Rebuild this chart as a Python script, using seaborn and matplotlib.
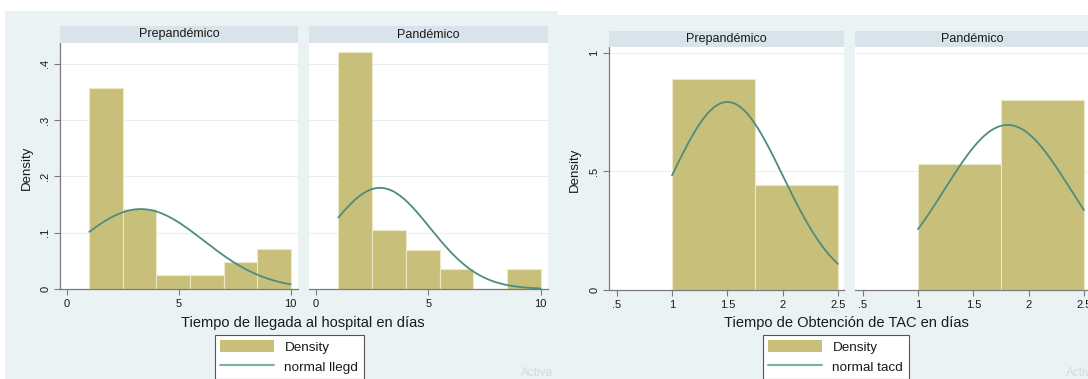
import numpy as np
import pandas as pd
import seaborn as sns
import matplotlib
matplotlib.use("Agg")
import matplotlib.pyplot as plt
from matplotlib.patches import Rectangle, Patch
from matplotlib.lines import Line2D

# ---------------- data ----------------
panels = ["Prepandémico", "Pandémico"]

# Graph 1: Tiempo de llegada al hospital en días (bin width 1.5)
llegd_edges = [1.0, 2.5, 4.0, 5.5, 7.0, 8.5, 10.0]
llegd_density_pre = [0.357, 0.143, 0.024, 0.024, 0.048, 0.071]
llegd_density_pan = [0.421, 0.105, 0.070, 0.035, 0.0, 0.035]
llegd_mean = [3.3, 2.85]
llegd_sd = [2.81, 2.22]
llegd_xticks = [0, 5, 10]
llegd_xticklabels = ["0", "5", "10"]
llegd_yticks = [0, 0.1, 0.2, 0.3, 0.4]
llegd_yticklabels = ["0", ".1", ".2", ".3", ".4"]

# Graph 2: Tiempo de Obtención de TAC en días (bin width 0.75)
tacd_edges = [1.0, 1.75, 2.5]
tacd_density_pre = [0.889, 0.444]
tacd_density_pan = [0.533, 0.800]
tacd_mean = [1.5, 1.81]
tacd_sd = [0.503, 0.573]
tacd_xticks = [0.5, 1, 1.5, 2, 2.5]
tacd_xticklabels = [".5", "1", "1.5", "2", "2.5"]
tacd_yticks = [0, 0.5, 1]
tacd_yticklabels = ["0", ".5", "1"]

# ---------------- style ----------------
sns.set_theme(style="white")
plt.rcParams["font.family"] = ["Liberation Sans", "DejaVu Sans"]

W, H = 1088, 379
BG = "#EAF2F3"
STRIP = "#D8E4EA"
BAR = "#C8C07A"
LINE = "#4E8C7E"
TXT = "#1a1a1a"
AX = "#7a7a7a"

fig = plt.figure(figsize=(W / 100, H / 100), dpi=100)
fig.patch.set_facecolor("white")


def frac(x0, y0, x1, y1):
    return [x0 / W, 1 - y1 / H, (x1 - x0) / W, (y1 - y0) / H]


# graph backgrounds (drawn below every axes)
fig.patches.append(Rectangle((5 / W, 0), (558 - 5) / W, 1 - 11 / H,
                             transform=fig.transFigure, facecolor=BG, edgecolor="none",
                             zorder=-10))
fig.patches.append(Rectangle((558 / W, 0), (W - 558) / W, 1 - 15 / H,
                             transform=fig.transFigure, facecolor=BG, edgecolor="none",
                             zorder=-10))


def draw_panel(box, strip_box, title, edges, dens, mu, sd, xlim, ylim,
               xticks, xtl, yticks, ytl, show_y):
    ax = fig.add_axes(frac(*box))
    ax.set_facecolor("white")
    e = np.asarray(edges, dtype=float)
    centers = (e[:-1] + e[1:]) / 2
    df = pd.DataFrame({"x": centers, "w": list(dens)})
    sns.histplot(data=df, x="x", weights="w", bins=list(edges), ax=ax, color=BAR,
                 alpha=1, edgecolor="#ECE8C8", linewidth=0.8, zorder=2)
    xs = np.linspace(e[0], e[-1], 200)
    pdf = np.exp(-0.5 * ((xs - mu) / sd) ** 2) / (sd * np.sqrt(2 * np.pi))
    sns.lineplot(x=xs, y=pdf, ax=ax, color=LINE, linewidth=1.3, zorder=3)
    for yt in yticks:
        ax.axhline(yt, color="#E6EFF1", linewidth=0.8, zorder=1)
    ax.set_xlim(*xlim)
    ax.set_ylim(*ylim)
    ax.set_xticks(xticks)
    ax.set_xticklabels(xtl, fontsize=8, color=TXT)
    ax.set_yticks(yticks)
    ax.set_xlabel("")
    ax.set_ylabel("")
    for s in ["top", "right"]:
        ax.spines[s].set_visible(False)
    ax.spines["bottom"].set_color(AX)
    ax.spines["bottom"].set_linewidth(0.9)
    ax.tick_params(axis="x", direction="out", length=4, width=0.8, color=AX, pad=3,
                   bottom=True)
    if show_y:
        ax.spines["left"].set_color(AX)
        ax.spines["left"].set_linewidth(0.9)
        ax.set_yticklabels(ytl, fontsize=8, color=TXT, rotation=90, va="center")
        ax.tick_params(axis="y", direction="out", length=4, width=0.8, color=AX, pad=3,
                       left=True)
    else:
        ax.spines["left"].set_visible(False)
        ax.set_yticklabels([])
        ax.tick_params(axis="y", left=False, length=0)
    # strip
    sax = fig.add_axes(frac(*strip_box))
    sax.set_facecolor(STRIP)
    sax.set_xticks([])
    sax.set_yticks([])
    for s in sax.spines.values():
        s.set_visible(False)
    sax.text(0.5, 0.5, title, ha="center", va="center", fontsize=9, color=TXT,
             transform=sax.transAxes)
    return ax


# ---- Graph 1 ----
xlim1 = (-0.31, 10.33)
ylim1 = (0, 0.437)
a1 = draw_panel((60, 43, 298, 289), (60, 26, 298, 43), panels[0], llegd_edges,
                llegd_density_pre, llegd_mean[0], llegd_sd[0], xlim1, ylim1,
                llegd_xticks, llegd_xticklabels, llegd_yticks, llegd_yticklabels, True)
a2 = draw_panel((309, 43, 548, 289), (309, 26, 548, 43), panels[1], llegd_edges,
                llegd_density_pan, llegd_mean[1], llegd_sd[1], xlim1, ylim1,
                llegd_xticks, llegd_xticklabels, llegd_yticks, llegd_yticklabels, False)
fig.text(27 / W, 1 - 168 / H, "Density", rotation=90, ha="center", va="center",
         fontsize=9.5, color=TXT)
fig.text(303 / W, 1 - 323 / H, "Tiempo de llegada al hospital en días", ha="center",
         va="center", fontsize=10.5, color=TXT)

# ---- Graph 2 ----
xlim2 = (0.43, 2.555)
ylim2 = (0, 1.025)
b1 = draw_panel((609, 47, 844, 290), (609, 31, 844, 47), panels[0], tacd_edges,
                tacd_density_pre, tacd_mean[0], tacd_sd[0], xlim2, ylim2,
                tacd_xticks, tacd_xticklabels, tacd_yticks, tacd_yticklabels, True)
b2 = draw_panel((855, 47, 1090, 290), (855, 31, 1090, 47), panels[1], tacd_edges,
                tacd_density_pan, tacd_mean[1], tacd_sd[1], xlim2, ylim2,
                tacd_xticks, tacd_xticklabels, tacd_yticks, tacd_yticklabels, False)
fig.text(575 / W, 1 - 170 / H, "Density", rotation=90, ha="center", va="center",
         fontsize=9.5, color=TXT)
fig.text(846 / W, 1 - 323 / H, "Tiempo de Obtención de TAC en días", ha="center",
         va="center", fontsize=10.5, color=TXT)

# ---- legends ----
def add_legend(x0, label2):
    h = [Patch(facecolor=BAR, edgecolor="none"),
         Line2D([0], [0], color="#7FB0A6", linewidth=1.5)]
    leg = fig.legend(h, ["Density", label2], loc="upper left",
                     bbox_to_anchor=(x0 / W, 1 - 335 / H), fontsize=9.7,
                     frameon=True, fancybox=False, edgecolor="#555555",
                     facecolor="white", framealpha=1, handlelength=4.0,
                     handleheight=0.9, handletextpad=0.75, borderpad=0.4,
                     labelspacing=0.5, borderaxespad=0, labelcolor=TXT)
    leg.get_frame().set_linewidth(0.8)
    return leg

add_legend(215, "normal llegd")
add_legend(763, "normal tacd")

# faint screen watermark remnants
fig.text(521 / W, 1 - 373 / H, "Activa", fontsize=8.5, color="#D3DADC", ha="left",
         va="center")
fig.text(1066 / W, 1 - 373 / H, "Activ", fontsize=8.5, color="#D3DADC", ha="left",
         va="center", clip_on=True)

fig.savefig("out.png", dpi=100, facecolor=fig.get_facecolor())
